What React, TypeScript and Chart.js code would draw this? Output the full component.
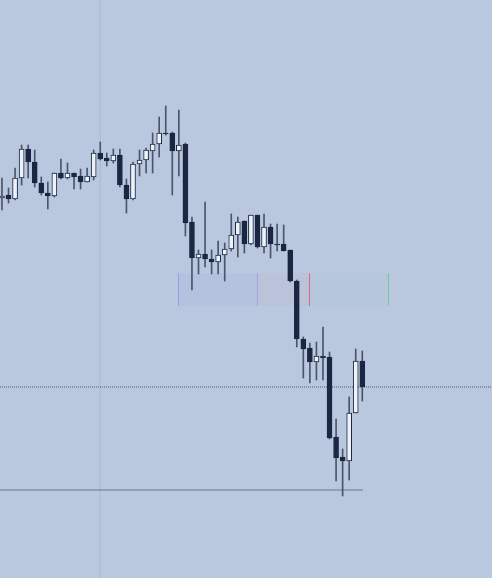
import React, { useEffect, useRef } from "react";
import { Chart, registerables } from "chart.js";

Chart.register(...registerables);

// OHLC values (price units)
const opens = [402, 405, 401, 422, 451, 438, 417, 407, 404, 427, 422, 427, 424, 418, 423, 447, 442, 439, 445, 415, 401, 436, 440, 449, 456, 467, 467, 449, 456, 378, 342, 346, 341, 338, 345, 351, 365, 379, 356, 385, 353, 373, 356, 356, 350, 319, 261, 252, 238, 244, 243, 163, 143, 139, 187, 239];
const highs = [422, 412, 432, 455, 455, 450, 423, 418, 427, 441, 437, 427, 431, 432, 450, 458, 447, 451, 451, 421, 438, 450, 452, 467, 483, 494, 468, 490, 457, 383, 350, 398, 350, 359, 357, 386, 383, 379, 385, 385, 386, 376, 376, 375, 350, 320, 263, 257, 258, 273, 248, 181, 151, 203, 251, 249];
const lows = [390, 397, 400, 415, 422, 413, 405, 391, 403, 421, 421, 411, 411, 418, 420, 440, 434, 437, 413, 387, 400, 424, 427, 427, 443, 465, 405, 424, 364, 310, 326, 333, 326, 326, 319, 349, 343, 347, 355, 352, 347, 342, 349, 349, 318, 253, 222, 217, 220, 220, 161, 119, 104, 120, 187, 199];
const closes = [404, 401, 422, 451, 438, 417, 407, 404, 427, 422, 427, 423, 418, 424, 447, 441, 439, 445, 415, 401, 436, 440, 450, 456, 467, 466, 449, 455, 377, 342, 346, 341, 338, 345, 351, 365, 378, 356, 385, 353, 373, 356, 355, 349, 319, 261, 251, 238, 244, 242, 162, 142, 139, 187, 239, 213];

// Reference levels and markers
const sessionMarkerIndex = 15;
const lastPrice = 213;
const supportLevel = 110;
const supportEndIndex = 55.1;
const zoneEdges = [26.9, 39, 46.9, 59];
const zoneTop = 326.7;
const zoneBottom = 294;

const X_MIN = -0.3;
const X_MAX = 74.8;
const Y_MIN = 22;
const Y_MAX = 600;

const BG = "rgb(185,200,223)";
const DARK = "#1b2742";
const LIGHT = "#edf1f8";
const WICK = "#4b5568";

const zonePlugin = {
  id: "zone",
  beforeDatasetsDraw(chart: any) {
    const { ctx, scales } = chart;
    const xs = scales.x;
    const ys = scales.y;
    const top = ys.getPixelForValue(zoneTop);
    const bottom = ys.getPixelForValue(zoneBottom);
    const fills = ["rgba(165,165,225,0.14)", "rgba(200,160,185,0.13)", "rgba(160,195,175,0.07)"];
    const lines = ["#9a9be6", "#a9a0d2", "#d9687c", "#72c896"];
    ctx.save();
    for (let i = 0; i < zoneEdges.length - 1; i++) {
      const a = xs.getPixelForValue(zoneEdges[i]);
      const b = xs.getPixelForValue(zoneEdges[i + 1]);
      ctx.fillStyle = fills[i];
      ctx.fillRect(a, top, b - a, bottom - top);
    }
    ctx.lineWidth = 1;
    zoneEdges.forEach((e, i) => {
      const px = Math.round(xs.getPixelForValue(e)) + 0.5;
      ctx.strokeStyle = lines[i];
      ctx.beginPath();
      ctx.moveTo(px, top);
      ctx.lineTo(px, bottom);
      ctx.stroke();
    });
    ctx.restore();
  },
};

export default function App() {
  const ref = useRef<HTMLCanvasElement | null>(null);

  useEffect(() => {
    if (!ref.current) return;
    const wickData = highs.map((h, i) => ({ x: i, y: [lows[i], h] }));
    const bodyData = opens.map((o, i) => ({ x: i, y: [o, closes[i]] }));
    const bodyColors = opens.map((o, i) => (closes[i] > o ? LIGHT : DARK));

    const chart = new Chart(ref.current, {
      type: "bar",
      data: {
        datasets: [
          {
            type: "line",
            data: [
              { x: sessionMarkerIndex, y: Y_MIN },
              { x: sessionMarkerIndex, y: Y_MAX },
            ],
            borderColor: "#a8b7ce",
            borderWidth: 1,
            pointRadius: 0,
            order: 10,
          } as any,
          {
            type: "line",
            data: [
              { x: X_MIN, y: supportLevel },
              { x: supportEndIndex, y: supportLevel },
            ],
            borderColor: "#6a7488",
            borderWidth: 1,
            pointRadius: 0,
            order: 9,
          } as any,
          {
            type: "line",
            data: [
              { x: X_MIN, y: lastPrice },
              { x: X_MAX, y: lastPrice },
            ],
            borderColor: "rgba(60,70,88,0.85)",
            borderWidth: 1,
            borderDash: [1, 1],
            pointRadius: 0,
            order: 8,
          } as any,
          {
            type: "bar",
            data: wickData as any,
            backgroundColor: WICK,
            barThickness: 1,
            grouped: false,
            order: 2,
          } as any,
          {
            type: "bar",
            data: bodyData as any,
            backgroundColor: bodyColors,
            borderColor: DARK,
            borderWidth: 1,
            borderSkipped: false,
            barThickness: 5,
            minBarLength: 1,
            grouped: false,
            order: 1,
          } as any,
        ],
      },
      options: {
        animation: false,
        responsive: false,
        devicePixelRatio: 1,
        layout: { padding: 0 },
        scales: {
          x: { type: "linear", min: X_MIN, max: X_MAX, display: false, offset: false, grid: { display: false } },
          y: { type: "linear", min: Y_MIN, max: Y_MAX, display: false, grid: { display: false } },
        },
        plugins: {
          legend: { display: false },
          tooltip: { enabled: false },
        },
      } as any,
      plugins: [zonePlugin],
    });
    return () => chart.destroy();
  }, []);

  return (
    <div
      style={{
        position: "fixed",
        left: 0,
        top: 0,
        width: 492,
        height: 578,
        background: BG,
        overflow: "hidden",
      }}
    >
      <canvas ref={ref} width={492} height={578} style={{ display: "block" }} />
    </div>
  );
}
